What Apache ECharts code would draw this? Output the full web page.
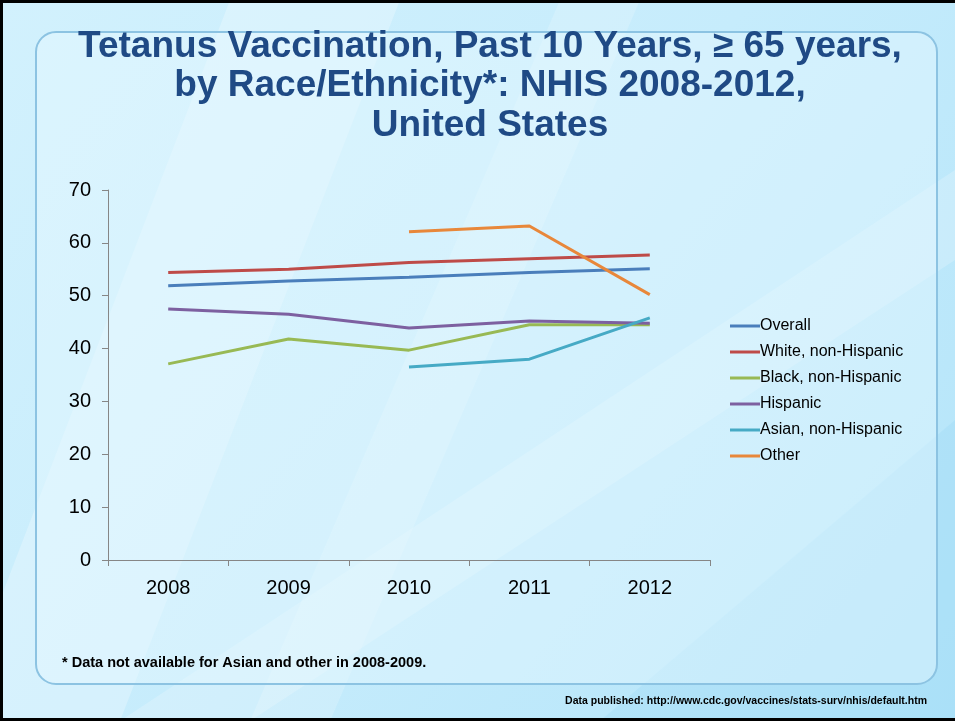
<!DOCTYPE html>
<html>
<head>
<meta charset="utf-8">
<script src="https://cdn.jsdelivr.net/npm/echarts@6/dist/echarts.min.js"></script>
<style>
html,body{margin:0;padding:0;background:#fff;}
#chart{width:955px;height:721px;}
</style>
</head>
<body>
<div id="chart"></div>
<script>
const years = ['2008', '2009', '2010', '2011', '2012'];
const overall = [51.9, 52.8, 53.5, 54.4, 55.1];
const whiteNH = [54.4, 55.0, 56.3, 57.0, 57.7];
const blackNH = [37.1, 41.8, 39.7, 44.5, 44.5];
const hispanic = [47.5, 46.5, 43.9, 45.2, 44.8];
const asianNH = [null, null, 36.5, 38.0, 45.8];
const other = [null, null, 62.1, 63.2, 50.2];
const seriesNames = ['Overall', 'White, non-Hispanic', 'Black, non-Hispanic', 'Hispanic', 'Asian, non-Hispanic', 'Other'];
const seriesData = [overall, whiteNH, blackNH, hispanic, asianNH, other];
const colors = ['#4a7ebb', '#be4b48', '#98b954', '#7d60a0', '#46aac5', '#e8873a'];

const chart = echarts.init(document.getElementById('chart'), null, {renderer: 'canvas'});
const FONT = '"Liberation Sans", Arial, sans-serif';

const option = {
  animation: false,
  color: colors,
  graphic: [
    {type: 'rect', z: -20, shape: {x: 0, y: 0, width: 955, height: 721},
     style: {fill: new echarts.graphic.LinearGradient(0, 0, 1, 1, [
       {offset: 0, color: '#d2f1fd'}, {offset: 0.5, color: '#c6ecfc'}, {offset: 1, color: '#b3e4f9'}])}},
    {type: 'polygon', z: -19, shape: {points: [[230, 0], [400, 0], [120, 721], [0, 721], [0, 600]]},
     style: {fill: 'rgba(255,255,255,0.25)'}},
    {type: 'polygon', z: -19, shape: {points: [[560, 0], [640, 0], [330, 721], [250, 721]]},
     style: {fill: 'rgba(255,255,255,0.18)'}},
    {type: 'polygon', z: -19, shape: {points: [[955, 170], [955, 260], [250, 721], [120, 721]]},
     style: {fill: 'rgba(255,255,255,0.2)'}},
    {type: 'polygon', z: -19, shape: {points: [[955, 420], [955, 721], [600, 721]]},
     style: {fill: 'rgba(120,200,240,0.15)'}},
    {type: 'rect', z: -18, shape: {x: 36, y: 32, width: 901, height: 652, r: 20},
     style: {fill: 'rgba(230,248,255,0.45)', stroke: '#8cc3e2', lineWidth: 2}},
    {type: 'rect', z: 50, shape: {x: 0, y: 0, width: 955, height: 3}, style: {fill: '#000'}},
    {type: 'rect', z: 50, shape: {x: 0, y: 0, width: 3, height: 721}, style: {fill: '#000'}},
    {type: 'rect', z: 50, shape: {x: 0, y: 718, width: 955, height: 3}, style: {fill: '#000'}}
  ],
  title: [
    {text: 'Tetanus Vaccination, Past 10 Years, \u2265 65 years,\nby Race/Ethnicity*: NHIS 2008-2012,\nUnited States',
     left: 490, top: 27, textAlign: 'center', padding: 0,
     textStyle: {fontFamily: FONT, fontSize: 37, fontWeight: 'bold', color: '#1f4a85', lineHeight: 39.5}},
    {text: '* Data not available for Asian and other in 2008-2009.',
     left: 62, top: 654, padding: 0,
     textStyle: {fontFamily: FONT, fontSize: 14.5, fontWeight: 'bold', color: '#000', lineHeight: 18}},
    {text: 'Data published: http://www.cdc.gov/vaccines/stats-surv/nhis/default.htm',
     right: 28, top: 694, padding: 0,
     textStyle: {fontFamily: FONT, fontSize: 10.5, fontWeight: 'bold', color: '#000', lineHeight: 14}}
  ],
  legend: {
    orient: 'vertical', left: 730, top: 318, padding: 0,
    itemWidth: 30, itemHeight: 3, itemGap: 10, icon: 'rect',
    textStyle: {fontFamily: FONT, fontSize: 16, color: '#000', lineHeight: 16, padding: [0, 0, 0, -5]},
    data: seriesNames
  },
  grid: {left: 108, right: 245, top: 190, bottom: 161},
  xAxis: {
    type: 'category', data: years, boundaryGap: true,
    axisLine: {lineStyle: {color: '#868686', width: 1}},
    axisTick: {show: true, length: 6, lineStyle: {color: '#868686'}},
    axisLabel: {fontFamily: FONT, fontSize: 20, color: '#000', margin: 18}
  },
  yAxis: {
    type: 'value', min: 0, max: 70, interval: 10,
    axisLine: {show: true, lineStyle: {color: '#868686', width: 1}},
    axisTick: {show: true, length: 6, lineStyle: {color: '#868686'}},
    splitLine: {show: false},
    axisLabel: {fontFamily: FONT, fontSize: 20, color: '#000', margin: 17}
  },
  series: seriesNames.map((name, i) => ({
    name: name, type: 'line', data: seriesData[i], symbol: 'none',
    connectNulls: false,
    lineStyle: {width: 3, color: colors[i]},
    itemStyle: {color: colors[i]}
  }))
};
chart.setOption(option);
</script>
</body>
</html>
